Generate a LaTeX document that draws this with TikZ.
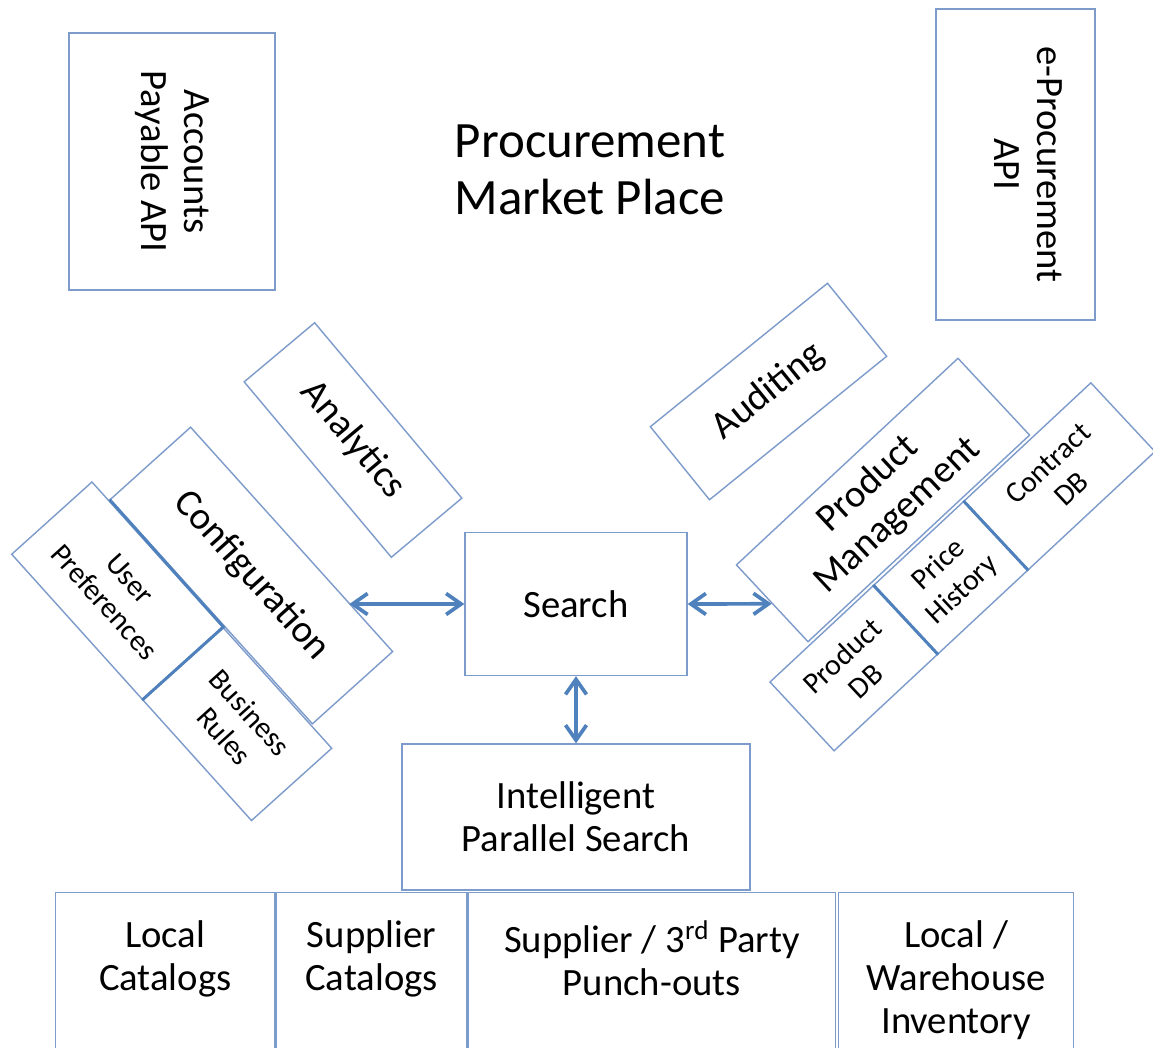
\documentclass[tikz,border=0pt]{standalone}
\usepackage{fontspec}
\setmainfont{Carlito}
\usetikzlibrary{positioning,calc,arrows.meta}
\definecolor{boxline}{HTML}{7D9BCB}
\definecolor{linkblue}{HTML}{4F81BD}
\begin{document}
\begin{tikzpicture}[x=0.02cm,y=-0.02cm,
	box/.style={draw=boxline,line width=0.8pt,inner sep=2pt,align=center,font=\fontsize{22}{24.6}\selectfont},
	smallbox/.style={box,font=\fontsize{17}{19.8}\selectfont},
	boxtext/.style={inner sep=0pt,align=center,font=\fontsize{22}{24.6}\selectfont},
	link/.style={<->,draw=linkblue,line width=2.1pt},
	divline/.style={draw=linkblue,line width=1.6pt},
	>={Straight Barb[length=0.3cm,width=0.42cm]}]
	\clip (0,0) rectangle (1153,1048);
	\fill[white] (0,0) rectangle (1153,1048);
	
	\node[align=center,font=\fontsize{29}{32.3}\selectfont] (title) at (590,170) {Procurement\\Market Place};
	\node[box,rotate=-90,minimum width=5.14cm,minimum height=4.12cm] (apapi) at (172,161.5) {Accounts\\Payable API};
	\node[box,rotate=-90,minimum width=6.22cm,minimum height=3.18cm] (eprocapi) at (1015.5,164.5) {};
	\node[boxtext,rotate=-90] (eprocapi-txt) at ([xshift=0.26cm]eprocapi.center) {e-Procurement\\API};
	
	% left wing
	\node[box,rotate=-50,minimum width=4.58cm,minimum height=1.84cm] (analytics) at (353,440) {Analytics};
	\node[box,rotate=-48,minimum width=6.04cm,minimum height=2.16cm] (config) at (251.5,575.5) {Configuration};
	\node[smallbox,rotate=-48,minimum width=3.9cm,minimum height=2.16cm,anchor=north west] (userpref) at (92,481) {User\\Preferences};
	\node[smallbox,rotate=-48,minimum width=3.24cm,minimum height=2.16cm,anchor=north west] (busrules) at (userpref.north east) {Business\\Rules};
	\draw[divline] (config.south west) -- (userpref.north east) -- (userpref.south east);
	
	% right wing
	\node[box,rotate=39,minimum width=4.56cm,minimum height=1.88cm] (auditing) at (768.5,391.5) {Auditing};
	\node[box,rotate=43,minimum width=6.06cm,minimum height=2.1cm] (prodmgmt) at (883,500) {Product\\Management};
	\node[smallbox,rotate=43,minimum width=2.82cm,minimum height=1.88cm,anchor=north west] (proddb) at (769,682) {Product\\DB};
	\node[smallbox,rotate=43,minimum width=2.44cm,minimum height=1.88cm,anchor=north west] (pricehist) at (proddb.north east) {Price\\History};
	\node[smallbox,rotate=43,minimum width=3.46cm,minimum height=1.88cm,anchor=north west] (contractdb) at (pricehist.north east) {Contract\\DB};
	\draw[divline] (proddb.north east) -- (proddb.south east);
	\draw[divline] (pricehist.north east) -- (pricehist.south east);
	
	% search in the middle
	\node[box,minimum width=4.44cm,minimum height=2.86cm] (search) at (576,604) {Search};
	\node[box,minimum width=6.96cm,minimum height=2.92cm] (intsearch) at (576,817) {Intelligent\\Parallel Search};
	\coordinate (cfgport) at ($(config.north west)!0.782!(config.north east)$);
	\draw[link] (search.west -| cfgport) -- (search.west);
	\draw[link] (search.east) -- (prodmgmt.west);
	\draw[link] (search.south) -- (intsearch.north);
	
	% sources along the bottom
	\node[box,minimum width=4.38cm,minimum height=3.6cm,anchor=north west] (loccat) at (55,892) {};
	\node[box,minimum width=3.82cm,minimum height=3.6cm,anchor=north west] (supcat) at (loccat.north east) {};
	\node[box,minimum width=7.34cm,minimum height=3.6cm,anchor=north west] (punchout) at (supcat.north east) {};
	\node[box,minimum width=4.7cm,minimum height=3.6cm,anchor=north west] (whinv) at (838,892) {};
	\node[boxtext,below=0.56cm of loccat.north] (loccat-txt) {Local\\Catalogs};
	\node[boxtext,below=0.56cm of supcat.north] (supcat-txt) {Supplier\\Catalogs};
	\node[boxtext,below=0.56cm of punchout.north] (punchout-txt) {Supplier / 3\textsuperscript{rd} Party\\Punch-outs};
	\node[boxtext,below=0.56cm of whinv.north] (whinv-txt) {Local /\\Warehouse\\Inventory};
\end{tikzpicture}
\end{document}
